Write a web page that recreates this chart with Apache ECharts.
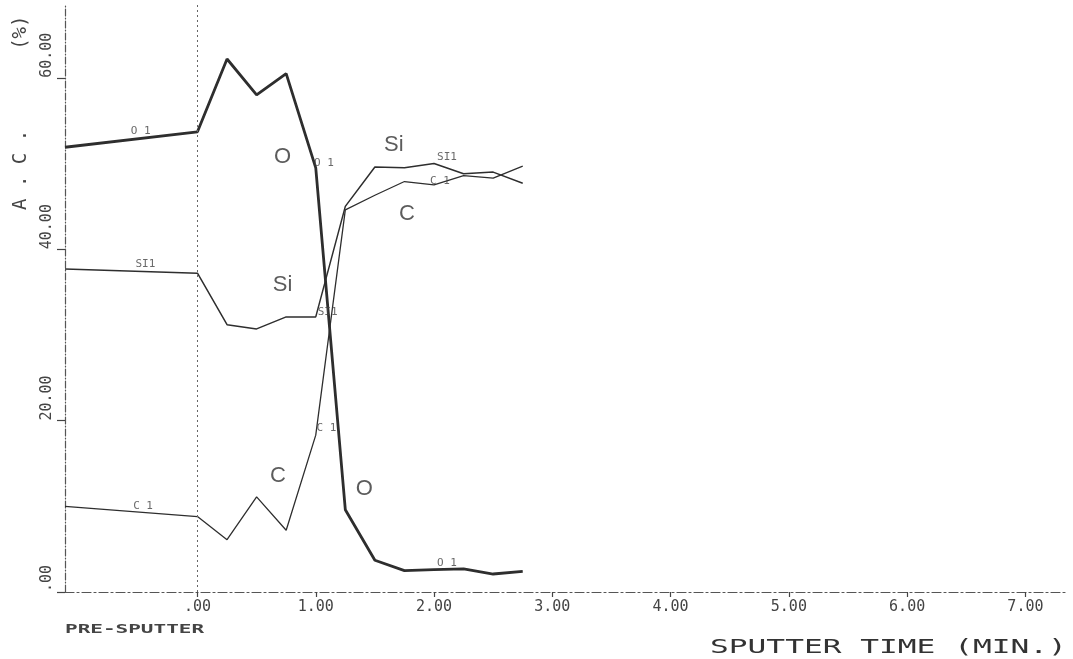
<!DOCTYPE html>
<html><head><meta charset="utf-8">
<script src="https://cdn.jsdelivr.net/npm/echarts@6/dist/echarts.min.js"></script>
<style>html,body{margin:0;padding:0;background:#fff}#c{width:1073px;height:659px}</style>
</head><body><div id="c"></div>
<script>
// sputter time (min); first point is the PRE-SPUTTER measurement
const timesMin = [-1.12, 0, 0.25, 0.5, 0.75, 1.0, 1.25, 1.5, 1.75, 2.0, 2.25, 2.5, 2.75];
const oxygen  = [51.9, 53.7, 62.2, 58.0, 60.5, 49.5, 9.6, 3.7, 2.5, 2.6, 2.7, 2.1, 2.4];
const silicon = [37.7, 37.2, 31.2, 30.7, 32.1, 32.1, 45.0, 49.6, 49.5, 50.0, 48.8, 49.0, 47.7];
const carbon  = [10.0, 8.8, 6.1, 11.1, 7.2, 18.3, 44.6, 46.3, 47.9, 47.5, 48.6, 48.3, 49.7];
const xTickValues = [0, 1, 2, 3, 4, 5, 6, 7];
const xTickLabels = ['.00', '1.00', '2.00', '3.00', '4.00', '5.00', '6.00', '7.00'];
const yTickValues = [0, 20, 40, 60];
const yTickLabels = ['.00', '20.00', '40.00', '60.00'];
const plotterLabels = [
  ['O 1', -0.48, 53.8], ['SI1', -0.44, 38.3], ['C 1', -0.46, 10.0],
  ['O 1', 1.07, 50.1], ['SI1', 1.10, 32.6], ['C 1', 1.09, 19.1],
  ['SI1', 2.11, 50.7], ['C 1', 2.05, 48.0], ['O 1', 2.11, 3.4]
];
const handLabels = [
  ['O', 0.72, 50.8], ['Si', 0.72, 35.8], ['Si', 1.66, 52.2],
  ['C', 1.77, 44.1], ['C', 0.68, 13.5], ['O', 1.41, 12.0]
];
const yAxisTitle = 'A . C .       (%)';
const preSputterText = 'PRE-SPUTTER';
const xAxisTitle = 'SPUTTER TIME (MIN.)';

const mono = '"DejaVu Sans Mono", monospace';
const ink = '#2e2e2e';
const pair = (ys) => timesMin.map((t, i) => [t, ys[i]]);

const chart = echarts.init(document.getElementById('c'));
chart.setOption({
  animation: false,
  backgroundColor: '#ffffff',
  grid: { left: 65, right: 5, top: 5, bottom: 67, containLabel: false, outerBoundsMode: 'none' },
  xAxis: {
    type: 'value', min: -1.12, max: 7.36,
    axisLine: { show: true, onZero: false, lineStyle: { color: '#555', width: 1.2, type: [9, 3, 2, 3] } },
    axisTick: { show: true, customValues: xTickValues, length: 5, lineStyle: { color: '#444', width: 1.2 } },
    axisLabel: {
      customValues: xTickValues, margin: 8, fontFamily: mono, fontSize: 15, color: '#444',
      formatter: (v) => xTickLabels[xTickValues.indexOf(Math.round(v))]
    },
    splitLine: { show: false }
  },
  yAxis: {
    type: 'value', min: 0, max: 68.5,
    axisLine: { show: true, onZero: false, lineStyle: { color: '#555', width: 1.2, type: [7, 2, 1, 2] } },
    axisTick: { show: true, customValues: yTickValues, length: 8, lineStyle: { color: '#444', width: 1.2 } },
    axisLabel: {
      customValues: yTickValues, rotate: 90, align: 'left', margin: 10,
      fontFamily: mono, fontSize: 15, color: '#444',
      formatter: (v) => yTickLabels[yTickValues.indexOf(Math.round(v))]
    },
    splitLine: { show: false }
  },
  series: [
    {
      name: 'O', type: 'line', data: pair(oxygen), symbol: 'none', silent: true,
      lineStyle: { color: ink, width: 2.8 },
      markLine: {
        silent: true, symbol: 'none', label: { show: false },
        lineStyle: { color: '#666', width: 1, type: [2, 3] },
        data: [{ xAxis: 0 }]
      }
    },
    { name: 'Si', type: 'line', data: pair(silicon), symbol: 'none', silent: true, lineStyle: { color: ink, width: 1.5 } },
    { name: 'C', type: 'line', data: pair(carbon), symbol: 'none', silent: true, lineStyle: { color: ink, width: 1.3 } },
    {
      type: 'scatter', silent: true, symbolSize: 0, z: 5,
      data: plotterLabels.map(d => ({ value: [d[1], d[2]], name: d[0] })),
      label: { show: true, position: 'inside', formatter: '{b}', fontFamily: mono, fontSize: 11, color: '#444' }
    },
    {
      type: 'scatter', silent: true, symbolSize: 0, z: 5,
      data: handLabels.map(d => ({ value: [d[1], d[2]], name: d[0] })),
      label: { show: true, position: 'inside', formatter: '{b}', fontFamily: '"Liberation Sans", Arial, sans-serif', fontSize: 22, color: '#333' }
    }
  ],
  graphic: [
    {
      type: 'text', x: 21, y: 210, rotation: Math.PI / 2, silent: true,
      style: { text: yAxisTitle, font: '19px ' + mono, fill: '#444', align: 'left', verticalAlign: 'middle', textAlign: 'left', textVerticalAlign: 'middle' }
    },
    {
      type: 'text', x: 65, y: 630, scaleX: 1.75, silent: true,
      style: { text: preSputterText, font: 'bold 12px ' + mono, fill: '#444', align: 'left', verticalAlign: 'middle', textAlign: 'left', textVerticalAlign: 'middle' }
    },
    {
      type: 'text', x: 710, y: 648, scaleX: 1.56, silent: true,
      style: { text: xAxisTitle, font: '20px ' + mono, fill: '#333', align: 'left', verticalAlign: 'middle', textAlign: 'left', textVerticalAlign: 'middle' }
    }
  ]
});
</script>
</body></html>
